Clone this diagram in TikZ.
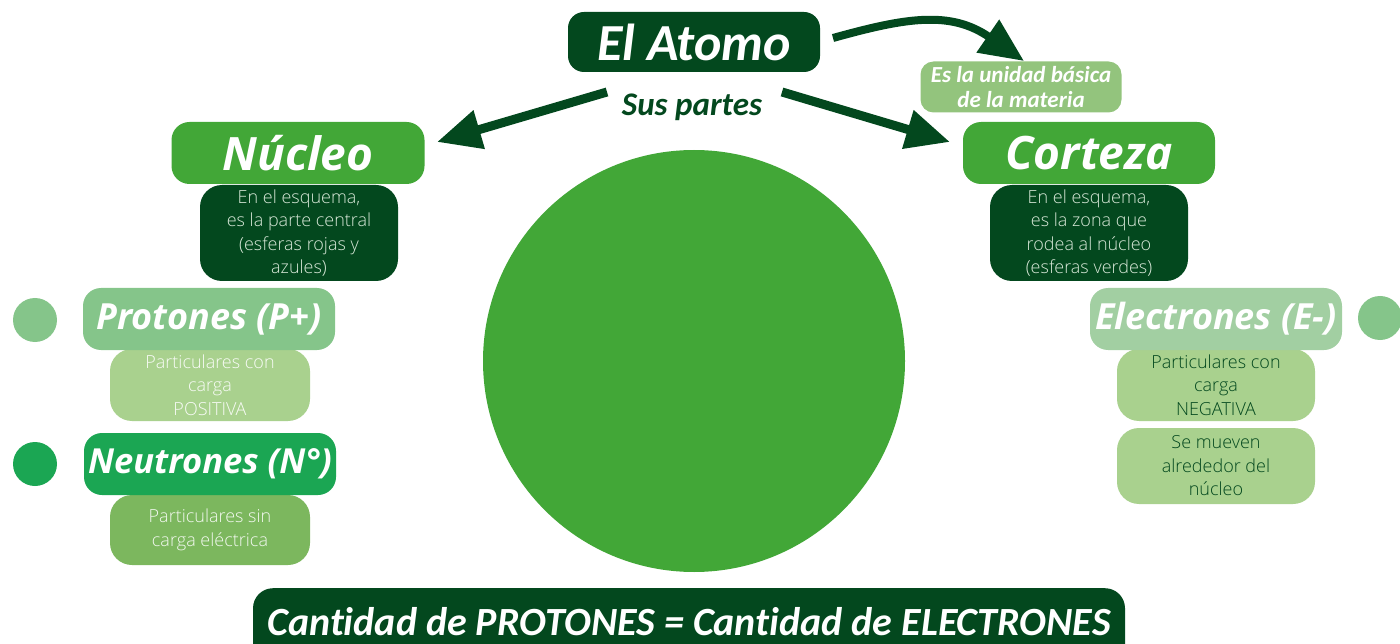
\documentclass[tikz,border=0pt]{standalone}
\usepackage{fontspec}
\usetikzlibrary{arrows.meta}
\setmainfont{Open Sans}
\newfontfamily\calfont{Carlito}[Ligatures=NoCommon]
\newfontfamily\headfont{Open Sans}
\newfontfamily\lightfont{Open Sans Light}

\definecolor{darkgr}{HTML}{03481E}
\definecolor{midgr}{HTML}{42A737}
\definecolor{unigr}{HTML}{93C47D}
\definecolor{protgr}{HTML}{85C58A}
\definecolor{elecgr}{HTML}{A2CFA2}
\definecolor{descgr}{HTML}{A9D18E}
\definecolor{neutgr}{HTML}{1BA653}
\definecolor{neutdesc}{HTML}{7CB75E}
\definecolor{paletxt}{HTML}{D8E8D8}

\tikzset{
  pill/.style={rounded corners=18pt, inner sep=0pt, text=white,
    font=\headfont\bfseries\itshape\fontsize{46}{50}\selectfont},
  smallpill/.style={pill, font=\headfont\bfseries\itshape\fontsize{36}{40}\selectfont},
  descbox/.style={rounded corners=22pt, inner sep=0pt, align=center,
    font=\lightfont\fontsize{18}{23.5}\selectfont},
  dot/.style={circle, inner sep=0pt, minimum size=44pt},
  bigarrow/.style={draw=darkgr, line width=9pt,
    -{Triangle[length=44pt,width=38pt]}},
}

\begin{document}
\begin{tikzpicture}[x=1pt,y=-1pt]
\useasboundingbox (0,0) rectangle (1400,644);
\clip (0,0) rectangle (1400,644);

% central sphere
\node[circle, fill=midgr, minimum size=422pt, inner sep=0pt] (atom) at (694,361) {};

% title
\node[fill=darkgr, rounded corners=16pt, minimum width=252pt, minimum height=60pt,
  inner sep=0pt, text=white, font=\calfont\bfseries\itshape\fontsize{52}{56}\selectfont]
  (titulo) at (694,42) {El Atomo};

\node[fill=unigr, rounded corners=13pt, minimum width=201pt, minimum height=51pt,
  inner sep=0pt, align=center, text=white,
  font=\calfont\bfseries\itshape\fontsize{23}{25}\selectfont]
  (unidad) at (1021,87) {Es la unidad básica\\de la materia};

\node[text=darkgr, font=\calfont\bfseries\itshape\fontsize{33}{36}\selectfont]
  (partes) at (692,107) {Sus partes};

% nucleus side
\node[descbox, fill=darkgr, text=paletxt, minimum width=198pt, minimum height=96pt]
  (nucdesc) at (299,233) {En el esquema,\\es la parte central\\(esferas rojas y\\azules)};
\node[pill, fill=midgr, minimum width=253pt, minimum height=62pt]
  (nucleo) at (298,153) {Núcleo};

\node[descbox, fill=descgr, text=white!92!descgr, minimum width=200pt, minimum height=72pt]
  (protdesc) at (210,385) {Particulares con\\carga\\POSITIVA};
\node[smallpill, fill=protgr, minimum width=252pt, minimum height=62pt]
  (protones) at (209,319) {Protones (P+)};
\node[dot, fill=protgr] (pdot) at (35,320) {};

\node[descbox, fill=neutdesc, text=white!90!neutdesc, minimum width=200pt, minimum height=70pt]
  (neutdesc) at (210,530) {Particulares sin\\carga eléctrica};
\node[smallpill, fill=neutgr, minimum width=252pt, minimum height=62pt,
  font=\headfont\bfseries\itshape\fontsize{34.5}{38}\selectfont]
  (neutrones) at (210,464) {Neutrones (N°)};
\node[dot, fill=neutgr] (ndot) at (35,464) {};

% shell side
\node[descbox, fill=darkgr, text=paletxt, minimum width=198pt, minimum height=96pt]
  (cortdesc) at (1089,233) {En el esquema,\\es la zona que\\rodea al núcleo\\(esferas verdes)};
\node[pill, fill=midgr, minimum width=252pt, minimum height=62pt]
  (corteza) at (1089,153) {Corteza};

\node[descbox, fill=descgr, text=darkgr, minimum width=198pt, minimum height=72pt]
  (elecdesc) at (1216,385) {Particulares con\\carga\\NEGATIVA};
\node[descbox, fill=descgr, text=darkgr, minimum width=198pt, minimum height=76pt]
  (movdesc) at (1216,466) {Se mueven\\alrededor del\\núcleo};
\node[smallpill, fill=elecgr, minimum width=252pt, minimum height=62pt]
  (electrones) at (1216,319) {Electrones (E-)};
\node[dot, fill=protgr] (edot) at (1380,318) {};

% bottom statement
\node[fill=darkgr, rounded corners=20pt, minimum width=872pt, minimum height=76pt,
  inner sep=0pt, text=white, font=\calfont\bfseries\itshape\fontsize{40}{44}\selectfont,
  anchor=north] (igualdad) at (689,588) {\raisebox{10pt}{Cantidad de PROTONES = Cantidad de ELECTRONES}};

% arrows
\coordinate (ls) at (607,92);
\coordinate (lt) at (437,142);
\coordinate (rs) at (782,92);
\coordinate (rt) at (950,142);
\coordinate (cs) at (833,38);
\coordinate (ct) at (1024,61);
\draw[bigarrow] (ls) -- (lt);
\draw[bigarrow] (rs) -- (rt);
\draw[bigarrow, line width=8pt] (cs) .. controls (905,18) and (950,10) .. (ct);
\end{tikzpicture}
\end{document}
